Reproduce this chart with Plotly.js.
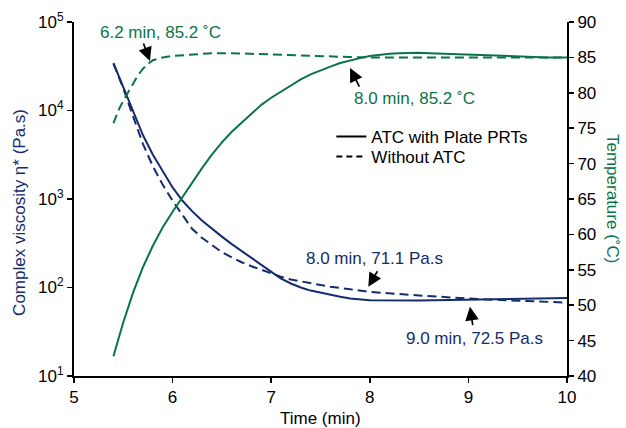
<!DOCTYPE html>
<html>
<head>
<meta charset="utf-8">
<script src="https://cdn.plot.ly/plotly-3.0.1.min.js"></script>
<style>html,body{margin:0;padding:0;background:#fff}#chart{width:626px;height:428px}</style>
</head>
<body>
<div id="chart"></div>
<script>
// Viscosity (Pa.s) vs time (min)
const timeVisATC = [5.4,5.5,5.6,5.7,5.8,5.9,6.0,6.1,6.2,6.3,6.4,6.5,6.6,6.7,6.8,6.9,7.0,7.1,7.2,7.3,7.4,7.5,7.6,7.7,7.8,7.9,8.0,8.5,9.0,9.5,10.0];
const visATC = [34200,18200,9770,5250,3160,2040,1350,955,724,569,457,376,309,257,214,178,150,126,111,100,92.3,87.1,83.2,78.5,75.0,72.8,71.6,71.3,72.5,74.1,75.9];
const timeVisNo = [5.4,5.5,5.6,5.7,5.8,5.9,6.0,6.1,6.2,6.3,6.4,6.5,6.6,6.7,6.8,6.9,7.0,7.1,7.2,7.4,7.6,7.8,8.0,8.5,9.0,9.5,10.0];
const visNo = [33900,17800,8510,4170,2340,1450,955,661,457,363,302,251,219,193,174,158,145,132,123,112,102,95.5,89.1,81.3,75.0,70.8,67.6];
// Temperature (°C) vs time (min)
const timeTempATC = [5.4,5.5,5.6,5.7,5.8,5.9,6.0,6.1,6.2,6.3,6.4,6.5,6.6,6.7,6.8,6.9,7.0,7.1,7.2,7.3,7.4,7.5,7.6,7.7,7.8,7.9,8.0,8.1,8.2,8.3,8.4,8.5,8.6,8.8,9.0,9.2,9.4,9.6,9.8,10.0];
const tempATC = [42.8,47.6,51.8,55.4,58.4,61.0,63.2,65.3,67.3,69.4,71.3,73.0,74.5,75.8,77.1,78.3,79.3,80.2,81.1,81.9,82.6,83.2,83.7,84.2,84.6,84.9,85.2,85.4,85.5,85.6,85.65,85.65,85.6,85.5,85.4,85.3,85.15,85.05,85.0,85.0];
const timeTempNo = [5.4,5.45,5.5,5.55,5.6,5.65,5.7,5.75,5.8,5.9,6.0,6.2,6.4,6.6,6.8,7.0,7.2,7.4,7.6,7.8,8.0,8.5,9.0,9.5,10.0];
const tempNo = [75.7,77.5,78.9,80.1,81.4,82.5,83.4,84.1,84.6,85.0,85.2,85.45,85.6,85.6,85.5,85.4,85.3,85.15,85.1,85.05,85.0,85.0,85.0,85.0,85.0];
const xTicks = [5,6,7,8,9,10];
const yTickVals = [10,100,1000,10000,100000];
const yTickText = ['10<sup>1</sup>','10<sup>2</sup>','10<sup>3</sup>','10<sup>4</sup>','10<sup>5</sup>'];
const legendNames = ['ATC with Plate PRTs','Without ATC'];
// Callouts: [time, value] of the marked point and label text
const calloutTempNo = {t:5.77, v:84.5, text:'6.2 min, 85.2 ˚C'};
const calloutTempATC = {t:7.80, v:83.5, text:'8.0 min, 85.2 ˚C'};
const calloutVisNo = {t:7.985, v:102, text:'8.0 min, 71.1 Pa.s'};
const calloutVisATC = {t:9.016, v:60.7, text:'9.0 min, 72.5 Pa.s'};

const NAVY = '#142b6c';
const GREEN = '#0a7448';
const FONT = 'Liberation Sans, Arial, sans-serif';
const FS = 17;

const traces = [
  {x: timeVisNo, y: visNo, mode:'lines', line:{color:NAVY, width:2, dash:'9px,5px'}, showlegend:false, yaxis:'y'},
  {x: timeVisATC, y: visATC, mode:'lines', line:{color:NAVY, width:2}, showlegend:false, yaxis:'y'},
  {x: timeTempNo, y: tempNo, mode:'lines', line:{color:GREEN, width:2, dash:'9px,5px'}, showlegend:false, yaxis:'y2'},
  {x: timeTempATC, y: tempATC, mode:'lines', line:{color:GREEN, width:2}, showlegend:false, yaxis:'y2'},
  {x:[null], y:[null], mode:'lines', name: legendNames[0], line:{color:'#000', width:2}, yaxis:'y', legend:'legend'},
  {x:[null], y:[null], mode:'lines', name: legendNames[1], line:{color:'#000', width:2, dash:'6px,4px'}, yaxis:'y', legend:'legend2'}
];

function arrow(xref, yref, t, v, ax, ay) {
  return {xref:xref, yref:yref, x:t, y:v, text:'', showarrow:true, arrowhead:2, arrowsize:1.6, arrowwidth:1.7, arrowcolor:'#000', ax:ax, ay:ay, standoff:0};
}
function label(xref, yref, x, y, text, color) {
  return {xref:xref, yref:yref, x:x, y:y, text:text, showarrow:false, xanchor:'center', yanchor:'middle', font:{size:FS, color:color}};
}

const annotations = [
  // axis titles
  {xref:'paper', yref:'paper', x:-0.112, y:0.463, text:'Complex viscosity η* (Pa.s)', textangle:-90, showarrow:false, xanchor:'center', yanchor:'middle', font:{size:FS, color:NAVY}},
  {xref:'paper', yref:'paper', x:1.0933, y:0.5, text:'Temperature (˚C)', textangle:90, showarrow:false, xanchor:'center', yanchor:'middle', font:{size:FS, color:GREEN}},
  {xref:'paper', yref:'paper', x:0.5, y:-0.11, text:'Time (min)', showarrow:false, xanchor:'center', yanchor:'top', yshift:8, font:{size:FS, color:'#000'}},
  // callouts
  arrow('x','y2', calloutTempNo.t, calloutTempNo.v, -7, -19),
  label('paper','paper', (160-74)/493, (376-32.5)/354, calloutTempNo.text, GREEN),
  arrow('x','y2', calloutTempATC.t, calloutTempATC.v, 10, 20),
  label('paper','paper', (414.7-74)/493, (376-98.5)/354, calloutTempATC.text, GREEN),
  arrow('x','y', calloutVisNo.t, Math.log10(calloutVisNo.v), 10, -17),
  label('paper','paper', (374.5-74)/493, (376-258.5)/354, calloutVisNo.text, NAVY),
  arrow('x','y', calloutVisATC.t, Math.log10(calloutVisATC.v), 3, 20),
  label('paper','paper', (474.5-74)/493, (376-338.5)/354, calloutVisATC.text, NAVY)
];

const axisCommon = {showgrid:false, zeroline:false, showline:true, linecolor:'#000', linewidth:2, ticks:'outside', ticklen:5, tickwidth:1.5, tickcolor:'#000', tickfont:{size:FS, color:'#000'}};
const legendCommon = {xanchor:'left', yanchor:'middle', bgcolor:'rgba(0,0,0,0)', borderwidth:0, font:{size:FS, color:'#000'}, itemwidth:30};

const layout = {
  width:626, height:428,
  margin:{l:74, r:59, t:22, b:52},
  paper_bgcolor:'#fff', plot_bgcolor:'#fff',
  font:{family:FONT, size:FS, color:'#000'},
  showlegend:true,
  legend:Object.assign({x:0.522, y:(376-137)/354}, legendCommon),
  legend2:Object.assign({x:0.522, y:(376-157)/354}, legendCommon),
  xaxis:Object.assign({range:[5,10], tickvals:xTicks}, axisCommon),
  yaxis:Object.assign({type:'log', range:[1,5], tickvals:yTickVals, ticktext:yTickText}, axisCommon),
  yaxis2:Object.assign({overlaying:'y', side:'right', range:[40,90], dtick:5, tick0:40}, axisCommon),
  annotations:annotations
};

Plotly.newPlot('chart', traces, layout, {displayModeBar:false, staticPlot:true});
</script>
</body>
</html>
